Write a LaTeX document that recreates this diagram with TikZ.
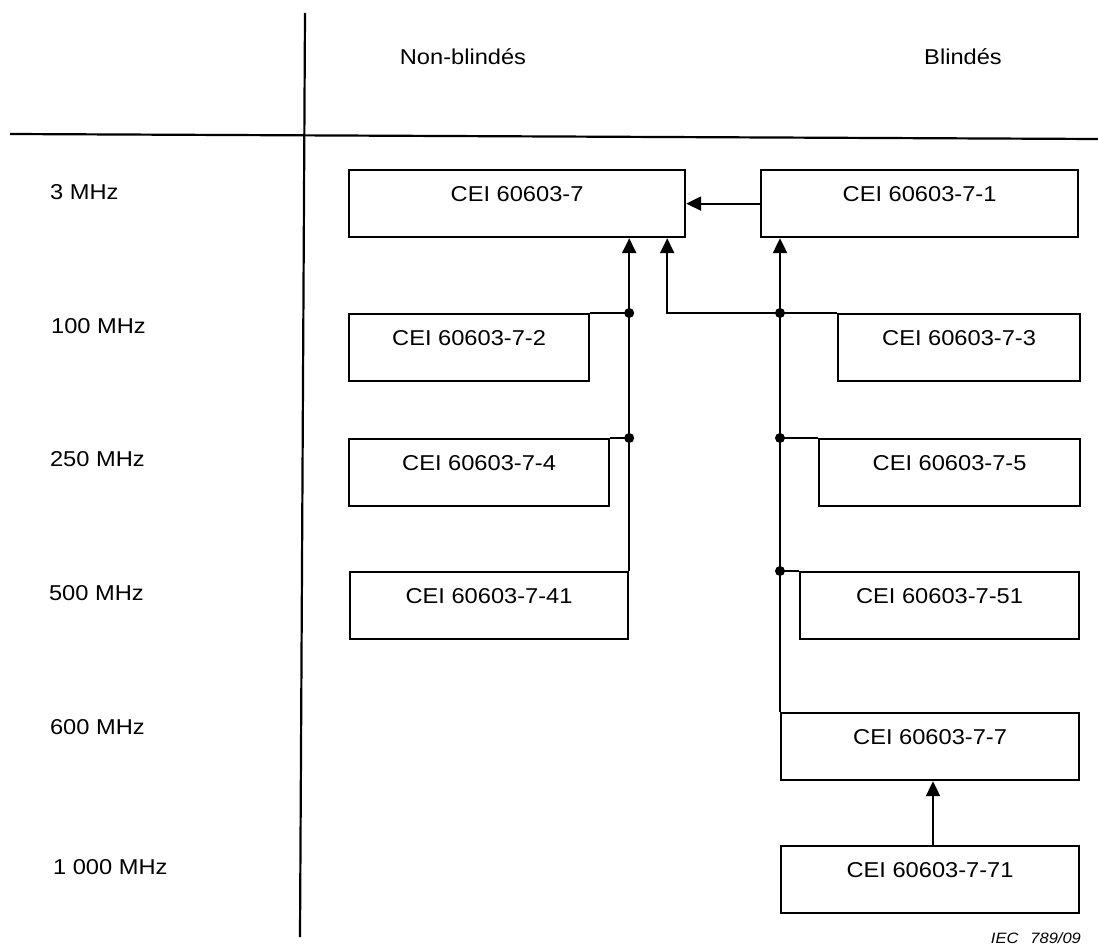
\documentclass[tikz,border=0pt]{standalone}
\usepackage{fontspec}
\setmainfont{Liberation Sans}[FakeStretch=1.1]
\usepackage{tikz}
\usetikzlibrary{arrows.meta, calc}
\tikzset{every picture/.style={font issue=\fontsize{21.5pt}{26pt}},
         font issue/.style={execute at begin picture={#1\selectfont}},
         cei/.style={draw, anchor=north west, inner sep=0pt, minimum width=#1,
                     text height=31pt, text depth=36pt},
         freq/.style={anchor=base west, inner sep=0pt},
         head/.style={anchor=base, inner sep=0pt},
         junc/.style={circle, fill, inner sep=0pt, minimum size=10pt},
         arr/.style={-{Triangle[length=15pt,width=14pt]}}
        }

\begin{document}
\begin{tikzpicture}[x=1pt, y=-1pt, line width=2.2pt]
\useasboundingbox (0,0) rectangle (1098,947);
% grid lines
\draw (305,13) -- (300,937);
\draw (10,134) -- (1098,139);
\node[head] (nonbl) at (463,65) {Non-blindés};
\node[head] (bl) at (963,65) {Blindés};
% frequencies
\node[freq] (f3) at (49,199) {3 MHz};
\node[freq] (f100) at (50,333) {100 MHz};
\node[freq] (f250) at (49,466) {250 MHz};
\node[freq] (f500) at (48,600) {500 MHz};
\node[freq] (f600) at (49,734) {600 MHz};
\node[freq] (f1000) at (52,874) {1 000 MHz};
% standards
\node[cei=336pt] (b7) at (348,169) {CEI 60603-7};
\node[cei=317pt] (b71) at (760,169) {CEI 60603-7-1};
\node[cei=240pt] (b72) at (348,313) {CEI 60603-7-2};
\node[cei=242pt] (b73) at (837,313) {CEI 60603-7-3};
\node[cei=260pt] (b74) at (348,438) {CEI 60603-7-4};
\node[cei=261pt] (b75) at (818,438) {CEI 60603-7-5};
\node[cei=278pt] (b741) at (349,571) {CEI 60603-7-41};
\node[cei=279pt] (b751) at (799,571) {CEI 60603-7-51};
\node[cei=298pt] (b77) at (780,712) {CEI 60603-7-7};
\node[cei=298pt] (b771) at (780,845) {CEI 60603-7-71};
% junctions
\coordinate (j2) at (b741.north east |- b72.north);
\coordinate (j4) at (b741.north east |- b74.north);
\coordinate (j3) at (b77.north west |- b73.north);
\coordinate (j5) at (b77.north west |- b75.north);
\coordinate (j51) at (b77.north west |- b751.north);
% connectors
\draw[arr] (b71.west) -- (b7.east);
\draw[arr] (b741.north east) -- (b741.north east |- b7.south);
\draw (b72.north east) -- (j2);
\draw (b74.north east) -- (j4);
\draw[arr] (b77.north west) -- (b77.north west |- b71.south);
\draw (j3) -- (b73.north west);
\draw (j5) -- (b75.north west);
\draw (j51) -- (b751.north west);
\draw[arr] (j3) -| ([xshift=-19pt]b7.south east);
\draw[arr] (b771.north -| 933,0) -- (b77.south -| 933,0);
\foreach \j in {j2,j4,j3,j5,j51}
  \node[junc] at (\j) {};
\node[anchor=base east, inner sep=0pt, font=\itshape\fontsize{15pt}{18pt}\selectfont] (iec) at (1082,943) {IEC\hspace{12pt}789/09};
\end{tikzpicture}
\end{document}
